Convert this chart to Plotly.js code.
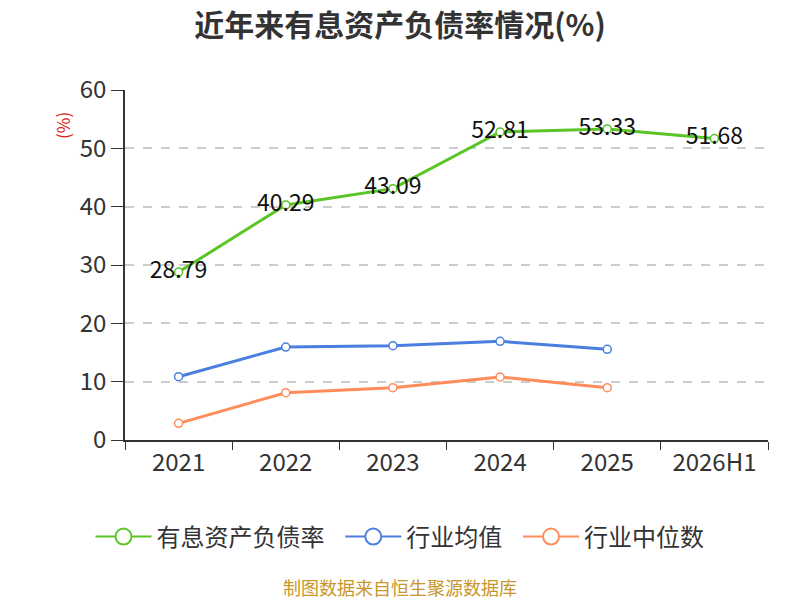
<!DOCTYPE html>
<html>
<head>
<meta charset="utf-8">
<script src="https://cdn.plot.ly/plotly-3.0.1.min.js"></script>
<style>
  body { margin: 0; background: #fff; }
  #chart { width: 800px; height: 600px; }
</style>
</head>
<body>
<div id="chart"></div>
<script>
// data
var years = ['2021', '2022', '2023', '2024', '2025', '2026H1'];
var debtRatio = [28.79, 40.29, 43.09, 52.81, 53.33, 51.68];
var industryMean = [10.85, 15.94, 16.17, 16.91, 15.54, null];
var industryMedian = [2.86, 8.11, 8.97, 10.8, 8.97, null];
var yTicks = [0, 10, 20, 30, 40, 50, 60];
var names = ['有息资产负债率', '行业均值', '行业中位数'];
var colors = ['#5ac526', '#4a7fe0', '#ff8c5a'];

var font = 'Noto Sans CJK SC, Noto Sans, sans-serif';
// page centre in plot-area paper units (plot spans 125..768 px)
var pageMid = (400 - 125) / 643;

function series(name, y, color, withText) {
    var t = {
        x: years,
        y: y,
        name: name,
        type: 'scatter',
        mode: withText ? 'lines+markers+text' : 'lines+markers',
        line: {color: color, width: 3},
        marker: {
            symbol: 'circle',
            size: 8,
            color: '#ffffff',
            line: {color: color, width: 1.5}
        },
        cliponaxis: false,
        showlegend: false,
        hoverinfo: 'x+y'
    };
    if (withText) {
        t.text = y.map(function(v) { return v.toFixed(2); });
        t.textposition = 'middle center';
        t.textfont = {family: font, size: 23, color: '#111'};
    }
    return t;
}

// legend-only entries with the bigger open circle of the reference legend
function legendEntry(name, color, last) {
    return {
        x: [null],
        y: [null],
        name: last ? name : name + '\u00a0\u00a0',
        type: 'scatter',
        mode: 'lines+markers',
        line: {color: color, width: 2},
        marker: {symbol: 'circle', size: 20, color: '#ffffff', line: {color: color, width: 2}},
        hoverinfo: 'skip'
    };
}

var plotdata = [
    series(names[0], debtRatio, colors[0], true),
    series(names[1], industryMean, colors[1], false),
    series(names[2], industryMedian, colors[2], false)
];
for (var i = 0; i < names.length; i++) {
    plotdata.push(legendEntry(names[i], colors[i], i == names.length - 1));
}

var layout = {
    width: 800,
    height: 600,
    margin: {l: 125, r: 32, t: 90, b: 160},
    paper_bgcolor: '#fff',
    plot_bgcolor: '#fff',
    font: {family: font, color: '#333'},
    title: {
        text: '<b>近年来有息资产负债率情况(%)</b>',
        font: {family: font, size: 30, color: '#333'},
        x: 0.5,
        xanchor: 'center',
        y: 0.958,
        yanchor: 'middle'
    },
    showlegend: true,
    legend: {
        orientation: 'h',
        x: pageMid,
        xanchor: 'center',
        y: -0.277,
        yanchor: 'middle',
        font: {family: font, size: 24, color: '#333'},
        itemwidth: 56,
        itemsizing: 'trace',
        tracegroupgap: 0
    },
    xaxis: {
        type: 'category',
        range: [-0.5, 5.5],
        showline: true,
        linecolor: '#333',
        linewidth: 1.5,
        ticks: 'outside',
        tickson: 'boundaries',
        ticklen: 8,
        tickcolor: '#333',
        tickfont: {family: font, size: 24, color: '#333'},
        showgrid: false,
        zeroline: false,
        fixedrange: true
    },
    yaxis: {
        range: [0, 60],
        tickvals: yTicks,
        showline: true,
        linecolor: '#333',
        linewidth: 1.5,
        ticks: 'outside',
        ticklen: 12,
        tickcolor: '#333',
        tickfont: {family: font, size: 24, color: '#333'},
        showgrid: true,
        gridcolor: '#cccccc',
        griddash: 'dash',
        gridwidth: 1.5,
        zeroline: false,
        fixedrange: true
    },
    annotations: [
        {
            text: '(%)',
            xref: 'paper', yref: 'paper',
            x: -0.098, y: 0.9,
            xanchor: 'center', yanchor: 'middle',
            textangle: -90,
            showarrow: false,
            font: {family: font, size: 17, color: '#e02020'}
        },
        {
            text: '制图数据来自恒生聚源数据库',
            xref: 'paper', yref: 'paper',
            x: pageMid, y: -0.42,
            xanchor: 'center', yanchor: 'middle',
            showarrow: false,
            font: {family: font, size: 18, color: '#c8962a'}
        }
    ]
};

Plotly.newPlot(document.getElementById('chart'), plotdata, layout, {displayModeBar: false});
</script>
</body>
</html>
